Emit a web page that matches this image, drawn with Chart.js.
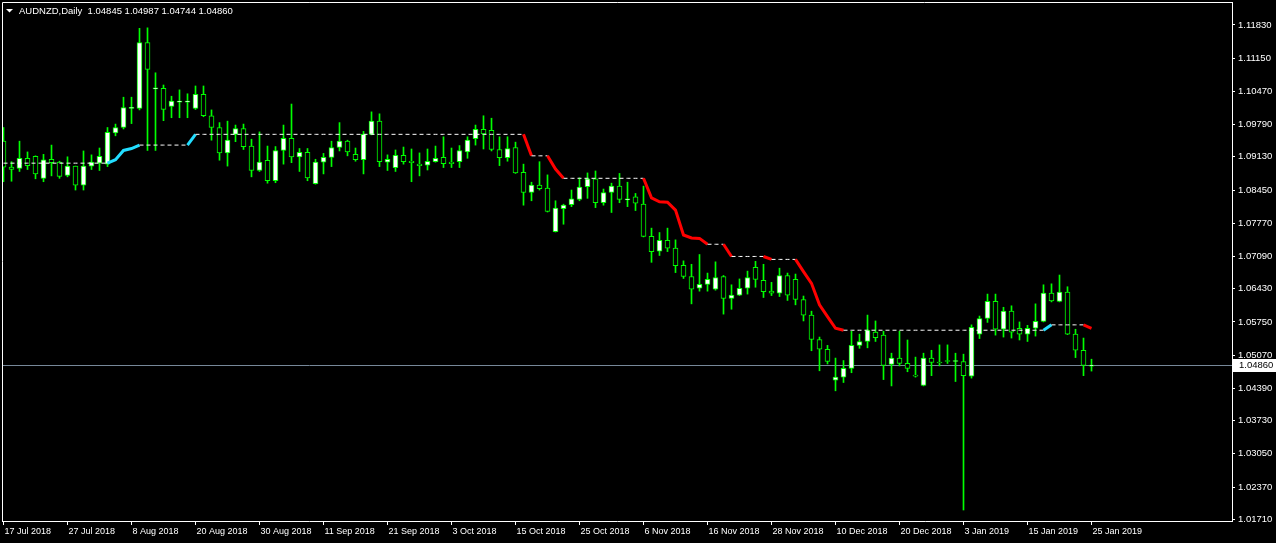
<!DOCTYPE html>
<html>
<head>
<meta charset="utf-8">
<script src="https://cdn.jsdelivr.net/npm/chart.js@4.4.1/dist/chart.umd.min.js"></script>
<style>
  html, body { margin: 0; padding: 0; background: #000; }
  canvas { display: block; }
</style>
</head>
<body>
<canvas id="chart" width="1276" height="543"></canvas>
<script>
const symbolTitle = "AUDNZD,Daily";

// one label every 8 bars, starting at bar 0
const dateLabels = [
  "17 Jul 2018", "27 Jul 2018", "8 Aug 2018", "20 Aug 2018", "30 Aug 2018", "11 Sep 2018",
  "21 Sep 2018", "3 Oct 2018", "15 Oct 2018", "25 Oct 2018", "6 Nov 2018", "16 Nov 2018",
  "28 Nov 2018", "10 Dec 2018", "20 Dec 2018", "3 Jan 2019", "15 Jan 2019", "25 Jan 2019"
];

const priceTicks = [
  1.11830, 1.11150, 1.10470, 1.09790, 1.09130, 1.08450, 1.07770, 1.07090,
  1.06430, 1.05750, 1.05070, 1.04390, 1.03730, 1.03050, 1.02370, 1.01710
];

const opens = [
  1.0945, 1.0892, 1.0889, 1.0910, 1.0914, 1.0869, 1.0908, 1.0902, 1.0875, 1.0894,
  1.0855, 1.0894, 1.0900, 1.0898, 1.0962, 1.0973, 1.1012, 1.1012, 1.1147, 1.1052,
  1.1053, 1.1016, 1.1025, 1.1025, 1.1012, 1.1041, 1.0997, 1.0973, 1.0921, 1.0959,
  1.0971, 1.0935, 1.0885, 1.0906, 1.0864, 1.0926, 1.0951, 1.0913, 1.0922, 1.0858,
  1.0902, 1.0912, 1.0932, 1.0945, 1.0918, 1.0907, 1.0959, 1.0986, 1.0902, 1.0891,
  1.0916, 1.0904, 1.0898, 1.0896, 1.0903, 1.0912, 1.0902, 1.0903, 1.0923, 1.0950,
  1.0969, 1.0967, 1.0928, 1.0911, 1.0932, 1.0881, 1.0840, 1.0855, 1.0849, 1.0760,
  1.0807, 1.0815, 1.0826, 1.0852, 1.0868, 1.0819, 1.0840, 1.0853, 1.0825, 1.0831,
  1.0816, 1.0750, 1.0720, 1.0742, 1.0726, 1.0691, 1.0668, 1.0644, 1.0652, 1.0642,
  1.0668, 1.0623, 1.0630, 1.0644, 1.0687, 1.0660, 1.0638, 1.0634, 1.0670, 1.0662,
  1.0621, 1.0589, 1.0539, 1.0519, 1.0456, 1.0462, 1.0480, 1.0527, 1.0535, 1.0554,
  1.0548, 1.0488, 1.0501, 1.0490, 1.0466, 1.0445, 1.0501, 1.0493, 1.0495, 1.0494,
  1.0494, 1.0464, 1.0550, 1.0582, 1.0617, 1.0560, 1.0597, 1.0562, 1.0550, 1.0562,
  1.0576, 1.0634, 1.0617, 1.0636, 1.0550, 1.0517, 1.04845
];

const highs = [
  1.0973, 1.0903, 1.0945, 1.0923, 1.0915, 1.0918, 1.0937, 1.0904, 1.0913, 1.0894,
  1.0925, 1.0917, 1.0931, 1.0973, 1.0980, 1.1035, 1.1035, 1.1176, 1.1177, 1.1085,
  1.1060, 1.1037, 1.1050, 1.1042, 1.1058, 1.1058, 1.1009, 1.0983, 1.0986, 1.0978,
  1.0980, 1.0949, 1.0964, 1.0935, 1.0934, 1.0978, 1.1021, 1.0930, 1.0930, 1.0908,
  1.0920, 1.0945, 1.0983, 1.0947, 1.0931, 1.0965, 1.1005, 1.1001, 1.0917, 1.0927,
  1.0933, 1.0929, 1.0921, 1.0929, 1.0935, 1.0954, 1.0931, 1.0936, 1.0954, 1.0978,
  1.0997, 1.0992, 1.0954, 1.0954, 1.0943, 1.0898, 1.0861, 1.0903, 1.0876, 1.0823,
  1.0816, 1.0845, 1.0870, 1.0880, 1.0884, 1.0847, 1.0859, 1.0879, 1.0861, 1.0838,
  1.0853, 1.0767, 1.0758, 1.0767, 1.0743, 1.0700, 1.0693, 1.0713, 1.0675, 1.0698,
  1.0670, 1.0651, 1.0663, 1.0679, 1.0699, 1.0693, 1.0656, 1.0685, 1.0675, 1.0673,
  1.0628, 1.0597, 1.0544, 1.0527, 1.0501, 1.0496, 1.0556, 1.0550, 1.0589, 1.0577,
  1.0556, 1.0511, 1.0556, 1.0538, 1.0503, 1.0511, 1.0517, 1.0528, 1.0528, 1.0511,
  1.0509, 1.0569, 1.0587, 1.0632, 1.0632, 1.0605, 1.0608, 1.0575, 1.0568, 1.0612,
  1.0651, 1.0653, 1.0671, 1.0647, 1.0560, 1.0542, 1.04987
];

const lows = [
  1.0862, 1.0863, 1.0883, 1.0887, 1.0868, 1.0862, 1.0874, 1.0869, 1.0872, 1.0845,
  1.0845, 1.0887, 1.0885, 1.0893, 1.0956, 1.0970, 1.0981, 1.1009, 1.0926, 1.0926,
  1.0987, 1.0993, 1.0993, 1.0993, 1.1010, 1.0995, 1.0947, 1.0906, 1.0894, 1.0944,
  1.0928, 1.0872, 1.0883, 1.0859, 1.0860, 1.0898, 1.0901, 1.0883, 1.0864, 1.0857,
  1.0878, 1.0893, 1.0925, 1.0915, 1.0904, 1.0878, 1.0958, 1.0893, 1.0885, 1.0883,
  1.0898, 1.0862, 1.0874, 1.0886, 1.0902, 1.0891, 1.0891, 1.0891, 1.0910, 1.0937,
  1.0929, 1.0925, 1.0895, 1.0904, 1.0879, 1.0814, 1.0823, 1.0845, 1.0800, 1.0759,
  1.0775, 1.0811, 1.0823, 1.0828, 1.0809, 1.0814, 1.0799, 1.0819, 1.0811, 1.0803,
  1.0749, 1.0697, 1.0711, 1.0719, 1.0676, 1.0664, 1.0612, 1.0638, 1.0638, 1.0640,
  1.0591, 1.0601, 1.0629, 1.0632, 1.0646, 1.0625, 1.0629, 1.0627, 1.0619, 1.0610,
  1.0577, 1.0516, 1.0475, 1.0489, 1.0434, 1.0451, 1.0471, 1.0521, 1.0522, 1.0535,
  1.0457, 1.0444, 1.0485, 1.0473, 1.0462, 1.0444, 1.0465, 1.0485, 1.0490, 1.0453,
  1.0190, 1.0460, 1.0541, 1.0574, 1.0548, 1.0544, 1.0542, 1.0538, 1.0535, 1.0546,
  1.0575, 1.0616, 1.0616, 1.0549, 1.0502, 1.0465, 1.04744
];

const closes = [
  1.0892, 1.0887, 1.0910, 1.0895, 1.0878, 1.0907, 1.0901, 1.0873, 1.0894, 1.0855,
  1.0894, 1.0902, 1.0914, 1.0963, 1.0973, 1.1014, 1.1014, 1.1147, 1.1092, 1.1054,
  1.1010, 1.1027, 1.1027, 1.1027, 1.1041, 1.0997, 1.0973, 1.0921, 1.0947, 1.0971,
  1.0934, 1.0885, 1.0902, 1.0864, 1.0926, 1.0951, 1.0913, 1.0922, 1.0870, 1.0902,
  1.0912, 1.0932, 1.0945, 1.0923, 1.0907, 1.0959, 1.0986, 1.0903, 1.0908, 1.0916,
  1.0903, 1.0901, 1.0895, 1.0904, 1.0910, 1.0899, 1.0899, 1.0926, 1.0947, 1.0969,
  1.0960, 1.0928, 1.0911, 1.0930, 1.0880, 1.0840, 1.0855, 1.0848, 1.0801, 1.0808,
  1.0814, 1.0827, 1.0851, 1.0868, 1.0819, 1.0840, 1.0853, 1.0826, 1.0827, 1.0818,
  1.0750, 1.0719, 1.0742, 1.0726, 1.0690, 1.0668, 1.0642, 1.0652, 1.0662, 1.0666,
  1.0623, 1.0630, 1.0644, 1.0666, 1.0662, 1.0637, 1.0634, 1.0670, 1.0630, 1.0621,
  1.0589, 1.0539, 1.0519, 1.0494, 1.0462, 1.0480, 1.0527, 1.0535, 1.0558, 1.0543,
  1.0486, 1.0501, 1.0490, 1.0480, 1.0464, 1.0501, 1.0492, 1.0491, 1.0494, 1.0495,
  1.0465, 1.0564, 1.0582, 1.0617, 1.0560, 1.0597, 1.0554, 1.0550, 1.0562, 1.0576,
  1.0634, 1.0618, 1.0636, 1.0550, 1.0517, 1.0486, 1.04860
];

// trailing stop style indicator (flat = dashed, up = cyan, down = red)
const stopLevels = [
  1.0900, 1.0900, 1.0900, 1.0900, 1.0900, 1.0900, 1.0900, 1.0900, 1.0900, 1.0900,
  1.0900, 1.0900, 1.0900, 1.0900, 1.0907, 1.0926, 1.0930, 1.0937, 1.0937, 1.0937,
  1.0937, 1.0937, 1.0937, 1.0937, 1.0959, 1.0959, 1.0959, 1.0959, 1.0959, 1.0959,
  1.0959, 1.0959, 1.0959, 1.0959, 1.0959, 1.0959, 1.0959, 1.0959, 1.0959, 1.0959,
  1.0959, 1.0959, 1.0959, 1.0959, 1.0959, 1.0959, 1.0959, 1.0959, 1.0959, 1.0959,
  1.0959, 1.0959, 1.0959, 1.0959, 1.0959, 1.0959, 1.0959, 1.0959, 1.0959, 1.0959,
  1.0959, 1.0959, 1.0959, 1.0959, 1.0959, 1.0959, 1.0915, 1.0915, 1.0915, 1.0888,
  1.0869, 1.0869, 1.0869, 1.0869, 1.0869, 1.0869, 1.0869, 1.0869, 1.0869, 1.0869,
  1.0869, 1.0829, 1.0821, 1.0820, 1.0804, 1.0753, 1.0747, 1.0746, 1.0734, 1.0734,
  1.0734, 1.0709, 1.0709, 1.0709, 1.0709, 1.0709, 1.0703, 1.0703, 1.0703, 1.0703,
  1.0678, 1.0654, 1.0610, 1.0586, 1.0562, 1.0558, 1.0558, 1.0558, 1.0558, 1.0558,
  1.0558, 1.0558, 1.0558, 1.0558, 1.0558, 1.0558, 1.0558, 1.0558, 1.0558, 1.0558,
  1.0558, 1.0558, 1.0558, 1.0558, 1.0558, 1.0558, 1.0558, 1.0558, 1.0558, 1.0558,
  1.0558, 1.0569, 1.0569, 1.0569, 1.0569, 1.0569, 1.0562
];

const GREEN = "#00ff00";
const FAMILY = "'Liberation Sans', Arial, sans-serif";
const FONT = { family: FAMILY, size: 9.5 };
const DATE_FONT = { family: FAMILY, size: 9 };
const last = closes.length - 1;

const wicks = highs.map((h, i) => ({ x: i, y: [lows[i], h] }));
const bodies = opens.map((o, i) => ({ x: i, y: [o, closes[i]] }));
const bodyFill = opens.map((o, i) => (closes[i] > o ? "#ffffff" : "#000000"));
const stopPts = stopLevels.map((v, i) => ({ x: i, y: v }));

const segColor = (c) => {
  const a = c.p0.parsed.y, b = c.p1.parsed.y;
  if (b > a) return "#22ddff";
  if (b < a) return "#ff0000";
  return "#ffffff";
};

const overlay = {
  id: "overlay",
  beforeDatasetsDraw(chart) {
    const { ctx, chartArea: a, scales: { y } } = chart;
    const py = Math.round(y.getPixelForValue(closes[last])) + 0.5;
    ctx.save();
    ctx.strokeStyle = "#778899";
    ctx.lineWidth = 1;
    ctx.beginPath();
    ctx.moveTo(a.left, py);
    ctx.lineTo(a.right, py);
    ctx.stroke();
    ctx.restore();
  },
  afterDraw(chart) {
    const { ctx, chartArea: a, scales: { y } } = chart;
    ctx.save();
    // frame top and left
    ctx.strokeStyle = "#ffffff";
    ctx.lineWidth = 1;
    ctx.beginPath();
    ctx.moveTo(a.left + 0.5, a.bottom);
    ctx.lineTo(a.left + 0.5, a.top + 0.5);
    ctx.lineTo(a.right, a.top + 0.5);
    ctx.stroke();

    // bid label box
    const py = Math.round(y.getPixelForValue(closes[last]));
    ctx.fillStyle = "#ffffff";
    ctx.fillRect(a.right + 1, py - 6, chart.width - a.right - 1, 13);
    ctx.fillStyle = "#000000";
    ctx.font = `${FONT.size}px ${FAMILY}`;
    ctx.textBaseline = "middle";
    ctx.textAlign = "left";
    ctx.fillText(closes[last].toFixed(5), a.right + 7, py + 0.5);

    // header
    ctx.fillStyle = "#ffffff";
    ctx.beginPath();
    ctx.moveTo(6, 9);
    ctx.lineTo(13, 9);
    ctx.lineTo(9.5, 12.5);
    ctx.closePath();
    ctx.fill();
    const ohlc = [opens[last], highs[last], lows[last], closes[last]].map(v => v.toFixed(5)).join(" ");
    ctx.font = `9.5px ${FAMILY}`;
    ctx.fillText(symbolTitle + "  " + ohlc, 19, 11);
    ctx.restore();
  }
};

new Chart(document.getElementById("chart").getContext("2d"), {
  type: "bar",
  data: {
    datasets: [
      {
        type: "line",
        data: stopPts,
        borderColor: "#ffffff",
        borderWidth: 1,
        pointRadius: 0,
        clip: 0,
        order: 0,
        segment: {
          borderColor: segColor,
          borderWidth: (c) => (c.p1.parsed.y === c.p0.parsed.y ? 1 : 3),
          borderDash: (c) => (c.p1.parsed.y === c.p0.parsed.y ? [4, 3] : undefined),
        },
      },
      {
        data: bodies,
        backgroundColor: bodyFill,
        borderColor: GREEN,
        borderWidth: 1,
        borderSkipped: false,
        barThickness: 5,
        minBarLength: 1,
        grouped: false,
        clip: 0,
        order: 1,
      },
      {
        data: wicks,
        backgroundColor: GREEN,
        borderWidth: 0,
        barThickness: 1,
        grouped: false,
        clip: 0,
        order: 2,
      },
    ],
  },
  options: {
    responsive: false,
    animation: false,
    layout: { padding: { top: 2, left: 2, right: 0, bottom: 0 } },
    plugins: { legend: { display: false }, tooltip: { enabled: false } },
    scales: {
      x: {
        type: "linear",
        offset: false,
        min: -0.1875,
        max: 153.5625,
        afterBuildTicks: (s) => { s.ticks = dateLabels.map((_, k) => ({ value: k * 8 })); },
        afterFit: (s) => { s.height = 22; s.paddingLeft = 0; s.paddingRight = 0; },
        ticks: {
          callback: (v, i) => dateLabels[i],
          color: "#ffffff",
          font: DATE_FONT,
          align: "start",
          labelOffset: 1,
          padding: 1,
          maxRotation: 0,
          autoSkip: false,
        },
        grid: { offset: false, drawOnChartArea: false, drawTicks: true, tickLength: 4, color: "#ffffff" },
        border: { display: true, color: "#ffffff" },
      },
      y: {
        type: "linear",
        position: "right",
        min: 1.01675,
        max: 1.12299,
        afterBuildTicks: (s) => { s.ticks = priceTicks.map((v) => ({ value: v })); },
        afterFit: (s) => { s.width = 44; s.paddingTop = 0; s.paddingBottom = 0; },
        ticks: {
          callback: (v) => v.toFixed(5),
          color: "#ffffff",
          font: FONT,
          padding: 3,
          autoSkip: false,
        },
        grid: { drawOnChartArea: false, drawTicks: true, tickLength: 3, color: "#ffffff" },
        border: { display: true, color: "#ffffff" },
      },
    },
  },
  plugins: [overlay],
});
</script>
</body>
</html>
